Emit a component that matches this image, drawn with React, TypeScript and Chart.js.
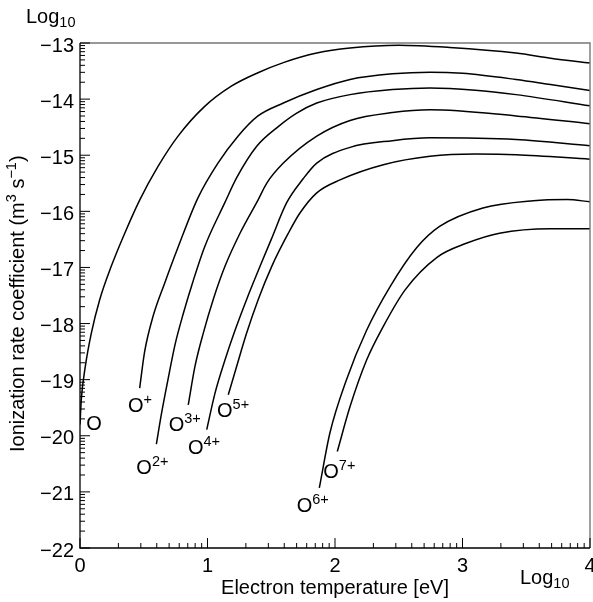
import React, { useEffect, useRef } from 'react';
import { Chart, registerables } from 'chart.js';

Chart.register(...registerables);

// log10(T / eV) and log10(rate / m^3 s^-1) for each ion
const tO = [0, 0.01, 0.042, 0.089, 0.155, 0.245, 0.351, 0.468, 0.612, 0.769, 0.978, 1.187, 1.396, 1.595, 1.857, 2.118, 2.5, 2.9, 3.42, 3.69, 4];
const rO = [-19.8, -19.36, -18.76, -18.17, -17.57, -16.98, -16.39, -15.8, -15.2, -14.66, -14.13, -13.77, -13.53, -13.35, -13.18, -13.09, -13.04, -13.08, -13.18, -13.27, -13.357];

const tO1 = [0.468, 0.507, 0.573, 0.664, 0.769, 0.925, 1.082, 1.239, 1.396, 1.595, 1.857, 2.118, 2.45, 2.745, 3.0, 3.42, 3.69, 4];
const rO1 = [-19.15, -18.5, -17.87, -17.28, -16.64, -15.76, -15.14, -14.66, -14.3, -14.07, -13.83, -13.65, -13.55, -13.52, -13.54, -13.65, -13.74, -13.845];

const tO2 = [0.599, 0.638, 0.69, 0.745, 0.808, 0.886, 0.978, 1.135, 1.229, 1.386, 1.555, 1.7, 1.857, 2.118, 2.45, 2.745, 3.1, 3.42, 4];
const rO2 = [-20.15, -19.62, -19.0, -18.38, -17.84, -17.25, -16.63, -15.85, -15.4, -14.84, -14.49, -14.25, -14.07, -13.92, -13.83, -13.8, -13.84, -13.92, -14.12];

const tO3 = [0.849, 0.902, 0.967, 1.045, 1.137, 1.255, 1.398, 1.464, 1.595, 1.857, 2.118, 2.45, 2.745, 3.42, 4];
const rO3 = [-19.45, -18.76, -18.17, -17.57, -16.98, -16.39, -15.79, -15.5, -15.14, -14.66, -14.38, -14.24, -14.19, -14.3, -14.44];

const tO4 = [0.994, 1.059, 1.137, 1.216, 1.307, 1.412, 1.5, 1.62, 1.75, 1.857, 2.118, 2.45, 2.745, 3.42, 4];
const rO4 = [-19.89, -19.24, -18.65, -18.12, -17.57, -16.98, -16.5, -15.85, -15.42, -15.14, -14.86, -14.74, -14.69, -14.72, -14.83];

const tO5 = [1.163, 1.229, 1.307, 1.398, 1.504, 1.634, 1.725, 1.857, 2.039, 2.379, 2.745, 3.1, 3.42, 4];
const rO5 = [-19.27, -18.76, -18.17, -17.57, -16.98, -16.39, -16.03, -15.67, -15.44, -15.17, -15.02, -14.98, -14.99, -15.07];

const tO6 = [1.877, 1.96, 2.09, 2.248, 2.43, 2.64, 2.82, 3.16, 3.555, 3.82, 4];
const rO6 = [-20.93, -19.95, -19.0, -18.12, -17.35, -16.65, -16.27, -15.94, -15.81, -15.79, -15.83];

const tO7 = [2.018, 2.118, 2.248, 2.379, 2.55, 2.8, 3.03, 3.29, 3.69, 4];
const rO7 = [-20.28, -19.48, -18.65, -18.05, -17.4, -16.82, -16.57, -16.39, -16.31, -16.31];

const seriesT = [tO, tO1, tO2, tO3, tO4, tO5, tO6, tO7];
const seriesR = [rO, rO1, rO2, rO3, rO4, rO5, rO6, rO7];

// labels: base + superscript, anchored in data units (left edge, baseline)
const labelSup = ['', '+', '2+', '3+', '4+', '5+', '6+', '7+'];
const labelX = [0.049, 0.376, 0.442, 0.696, 0.847, 1.075, 1.7, 1.908];
const labelY = [-19.89, -19.585, -20.69, -19.92, -20.32, -19.67, -21.35, -20.75];

const xTicks = [0, 1, 2, 3, 4];
const yTicks = [-22, -21, -20, -19, -18, -17, -16, -15, -14, -13];

const FONT = '"Liberation Sans", Arial, Helvetica, sans-serif';
const FS = 20;
const FSS = 14.5;

const decoPlugin = {
  id: 'deco',
  afterDraw(chart: any) {
    const { ctx, chartArea } = chart;
    const xs = chart.scales.x;
    const ys = chart.scales.y;
    const { left, right, top, bottom } = chartArea;
    ctx.save();

    // frame: top/right gray
    ctx.strokeStyle = '#777';
    ctx.lineWidth = 1.4;
    ctx.beginPath();
    ctx.moveTo(left, top);
    ctx.lineTo(right, top);
    ctx.lineTo(right, bottom);
    ctx.stroke();

    // axes
    ctx.strokeStyle = '#000';
    ctx.lineWidth = 1.3;
    ctx.beginPath();
    ctx.moveTo(left, top);
    ctx.lineTo(left, bottom);
    ctx.lineTo(right, bottom);
    ctx.stroke();

    // ticks (log-decade minor ticks)
    ctx.lineWidth = 1;
    ctx.beginPath();
    for (let i = 0; i < yTicks.length; i++) {
      const d = yTicks[i];
      const py = ys.getPixelForValue(d);
      ctx.moveTo(left, py);
      ctx.lineTo(left + 10, py);
      if (i < yTicks.length - 1) {
        for (let k = 2; k <= 9; k++) {
          const pm = ys.getPixelForValue(d + Math.log10(k));
          ctx.moveTo(left, pm);
          ctx.lineTo(left + 5, pm);
        }
      }
    }
    for (let i = 0; i < xTicks.length; i++) {
      const d = xTicks[i];
      const px = xs.getPixelForValue(d);
      ctx.moveTo(px, bottom);
      ctx.lineTo(px, bottom - 10);
      if (i < xTicks.length - 1) {
        for (let k = 2; k <= 9; k++) {
          const pm = xs.getPixelForValue(d + Math.log10(k));
          ctx.moveTo(pm, bottom);
          ctx.lineTo(pm, bottom - 5);
        }
      }
    }
    ctx.stroke();

    ctx.fillStyle = '#000';
    ctx.textBaseline = 'alphabetic';
    ctx.textAlign = 'left';

    // ion labels
    for (let i = 0; i < labelSup.length; i++) {
      const px = xs.getPixelForValue(labelX[i]);
      const py = ys.getPixelForValue(labelY[i]);
      ctx.font = `${FS}px ${FONT}`;
      ctx.fillText('O', px, py);
      const w = ctx.measureText('O').width;
      if (labelSup[i]) {
        ctx.font = `${FSS}px ${FONT}`;
        ctx.fillText(labelSup[i], px + w, py - 8);
      }
    }

    // Log10 labels
    const drawLog = (x: number, y: number) => {
      ctx.font = `${FS}px ${FONT}`;
      ctx.fillText('Log', x, y);
      const w = ctx.measureText('Log').width;
      ctx.font = `${FSS}px ${FONT}`;
      ctx.fillText('10', x + w, y + 4);
    };
    drawLog(26, 23);
    drawLog(520, 584);

    // y title
    ctx.translate(24, 452);
    ctx.rotate(-Math.PI / 2);
    let cx = 0;
    const parts: [string, boolean][] = [
      ['Ionization rate coefficient (m', false],
      ['3', true],
      [' s', false],
      ['\u22121', true],
      [')', false],
    ];
    for (const [t, sup] of parts) {
      ctx.font = sup ? `${FSS}px ${FONT}` : `${FS}px ${FONT}`;
      ctx.fillText(t, cx, sup ? -8 : 0);
      cx += ctx.measureText(t).width;
    }
    ctx.restore();
  },
};

export default function App() {
  const ref = useRef<HTMLCanvasElement>(null);
  useEffect(() => {
    const canvas = ref.current;
    if (!canvas) return;
    const datasets = seriesT.map((ts, si) => ({
      label: 'O' + labelSup[si],
      data: ts.map((t, j) => ({ x: t, y: seriesR[si][j] })),
      showLine: true,
      borderColor: '#000',
      borderWidth: 1.5,
      pointRadius: 0,
      cubicInterpolationMode: 'monotone' as const,
      fill: false,
    }));
    const chart = new Chart(canvas, {
      type: 'scatter',
      data: { datasets },
      options: {
        animation: false,
        responsive: false,
        devicePixelRatio: 1,
        layout: { padding: { top: 43, right: 3, bottom: 0, left: 0 } },
        plugins: { legend: { display: false }, tooltip: { enabled: false } },
        scales: {
          x: {
            type: 'linear',
            min: 0,
            max: 4,
            grid: { display: false, drawTicks: false },
            border: { display: false },
            ticks: {
              stepSize: 1,
              autoSkip: false,
              maxRotation: 0,
              padding: 6,
              color: '#000',
              font: { family: FONT, size: FS },
              callback: (v: any) => String(v),
            },
            title: {
              display: true,
              text: 'Electron temperature [eV]',
              color: '#000',
              font: { family: FONT, size: FS, lineHeight: 1.2 },
              padding: { top: 0, bottom: 2 },
            },
            afterFit: (s: any) => {
              s.height = 54;
              s.paddingLeft = 0;
              s.paddingRight = 0;
            },
          },
          y: {
            type: 'linear',
            min: -22,
            max: -13,
            grid: { display: false, drawTicks: false },
            border: { display: false },
            ticks: {
              stepSize: 1,
              autoSkip: false,
              padding: 6,
              labelOffset: 3,
              color: '#000',
              font: { family: FONT, size: FS },
              callback: (v: any) => (v < 0 ? '\u2212' + Math.abs(v) : String(v)),
            },
            afterFit: (s: any) => {
              s.width = 80;
              s.paddingTop = 0;
              s.paddingBottom = 0;
            },
          },
        },
      },
      plugins: [decoPlugin],
    });
    return () => chart.destroy();
  }, []);
  return (
    <div style={{ position: 'fixed', left: 0, top: 0, width: 593, height: 602, background: '#fff' }}>
      <canvas ref={ref} width={593} height={602} />
    </div>
  );
}
